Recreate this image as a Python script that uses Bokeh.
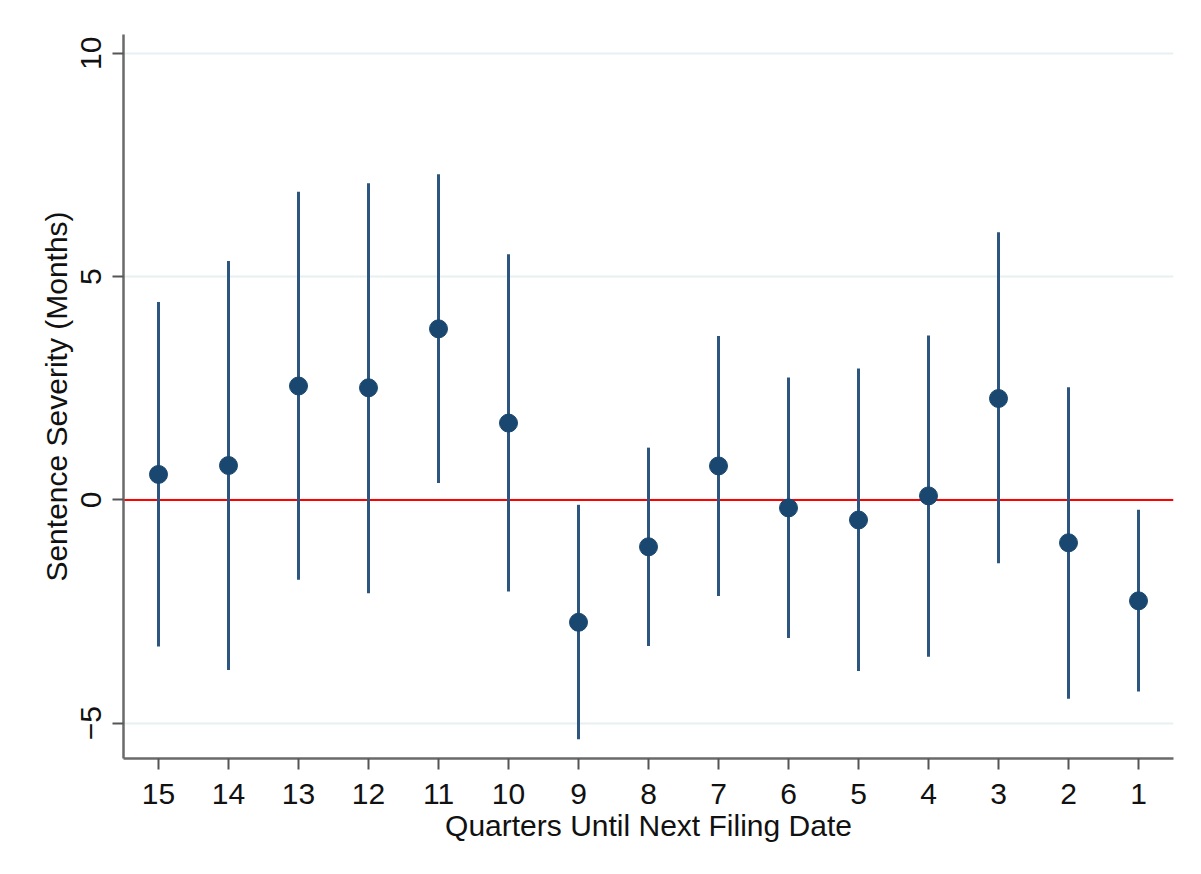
from bokeh.plotting import figure
from bokeh.models import Range1d, FixedTicker, Span
from bokeh.embed import file_html
from bokeh.resources import INLINE

# Point estimates and confidence bounds by quarters until the next filing date
quarters = [15, 14, 13, 12, 11, 10, 9, 8, 7, 6, 5, 4, 3, 2, 1]
estimate = [0.57, 0.77, 2.55, 2.51, 3.83, 1.72, -2.74, -1.05, 0.76, -0.18, -0.45, 0.09, 2.27, -0.96, -2.26]
ci_low = [-3.28, -3.81, -1.79, -2.09, 0.38, -2.05, -5.36, -3.27, -2.15, -3.09, -3.83, -3.51, -1.42, -4.45, -4.29]
ci_high = [4.43, 5.35, 6.90, 7.09, 7.29, 5.50, -0.11, 1.17, 3.67, 2.74, 2.94, 3.68, 5.99, 2.52, -0.22]
y_ticks = [-5, 0, 5, 10]

FONT = "Liberation Sans"
SIZE = "30px"
NAVY = "#1a476f"

p = figure(
    width=1201, height=874,
    x_range=Range1d(15.5, 0.5), y_range=Range1d(-5.79, 10.42),
    output_backend="svg", toolbar_location=None,
    min_border_left=123, min_border_right=28,
    min_border_top=34, min_border_bottom=116,
)
p.outline_line_color = None
p.background_fill_color = "white"
p.border_fill_color = "white"

# grid: horizontal only, very light
p.xgrid.visible = False
p.ygrid.ticker = FixedTicker(ticks=y_ticks)
p.ygrid.grid_line_color = "#e6eff1"
p.ygrid.grid_line_width = 2

# reference line at zero
zero = Span(location=0, dimension="width", line_color="#ff0000", line_width=2, level="underlay")
p.add_layout(zero)

# confidence intervals and point estimates
p.segment(x0=quarters, y0=ci_low, x1=quarters, y1=ci_high, line_color="#2c5680", line_width=3)
p.scatter(quarters, estimate, size=18, fill_color=NAVY, line_color=NAVY)

# axes
p.xaxis.ticker = FixedTicker(ticks=quarters)
p.yaxis.ticker = FixedTicker(ticks=y_ticks)
p.yaxis.major_label_orientation = "vertical"
p.xaxis.axis_label = "Quarters Until Next Filing Date"
p.yaxis.axis_label = "Sentence Severity (Months)"

for ax in (p.xaxis[0], p.yaxis[0]):
    ax.axis_line_color = "#6a6a6a"
    ax.axis_line_width = 2.5
    ax.major_tick_line_color = "#555555"
    ax.major_tick_line_width = 2
    ax.major_tick_out = 11
    ax.major_tick_in = 0
    ax.minor_tick_line_color = None
    ax.major_label_text_font = FONT
    ax.major_label_text_font_size = SIZE
    ax.major_label_text_color = "#111111"
    ax.axis_label_text_font = FONT
    ax.axis_label_text_font_size = SIZE
    ax.axis_label_text_font_style = "normal"
    ax.axis_label_text_color = "#111111"

p.xaxis.major_label_standoff = 14
p.xaxis.axis_label_standoff = 2
p.yaxis.major_label_standoff = 11
p.yaxis.axis_label_standoff = 6

open("out.html", "w").write(file_html(p, INLINE))
